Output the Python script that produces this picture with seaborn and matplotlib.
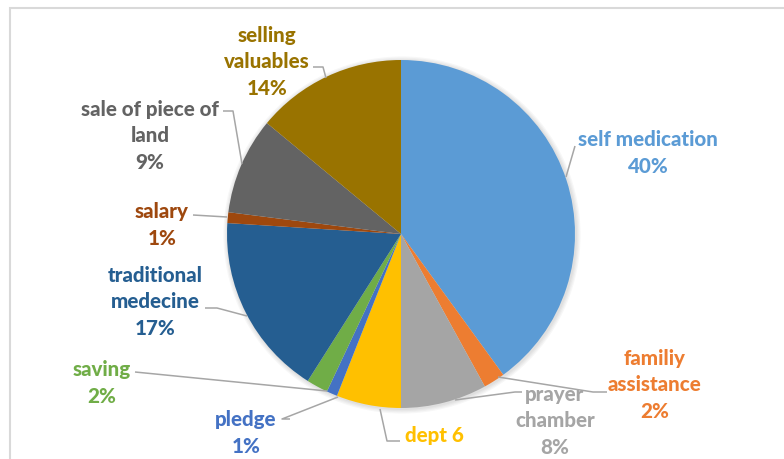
import matplotlib
matplotlib.use("Agg")
import matplotlib.pyplot as plt
import seaborn as sns
from matplotlib.patches import Rectangle

categories = ["self medication", "familiy assistance", "prayer chamber", "dept",
              "pledge", "saving", "traditional medecine", "salary",
              "sale of piece of land", "selling valuables"]
values = [40, 2, 8, 6, 1, 2, 17, 1, 9, 14]
label_texts = ["self medication\n40%", "familiy\nassistance\n2%", "prayer\nchamber\n8%",
               "dept 6", "pledge\n1%", "saving\n2%", "traditional\nmedecine\n17%",
               "salary\n1%", "sale of piece of\nland\n9%", "selling\nvaluables\n14%"]
colors = ["#5B9BD5", "#ED7D31", "#A5A5A5", "#FFC000", "#4472C4", "#70AD47",
          "#255E91", "#9E480E", "#636363", "#997300"]

sns.set_theme(style="white")
plt.rcParams['font.family'] = ['Lato', 'DejaVu Sans']

W, H = 784, 460
fig = plt.figure(figsize=(W / 100, H / 100), dpi=100)
ax = fig.add_axes([0, 0, 1, 1])

def Y(y):
    return H - y

cx, cy, r = 401, 235, 174
for i in range(4):
    ax.add_patch(plt.Circle((cx + 1, Y(cy) - 1), r + 1 + i * 1.2, color="black",
                            alpha=0.03, lw=0, zorder=1))
wedges, _ = ax.pie(values, colors=colors, startangle=90, counterclock=False,
                   center=(cx, Y(cy)), radius=r, frame=True,
                   wedgeprops=dict(linewidth=0, zorder=2))
ax.set_xlim(0, W)
ax.set_ylim(0, H)
ax.set_aspect("equal")
ax.axis("off")

# frame
ax.add_patch(Rectangle((9.5, Y(470)), 800, 470 - 8.5, fill=False,
                       edgecolor="#D9D9D9", linewidth=1.5, zorder=0))

# label positions (pixel centres) and leader lines
label_pos = [(648, 153), (655, 385), (555, 421), (434, 436), (246, 433),
             (102, 383), (155, 302), (162, 225), (150, 136), (267, 62)]
leaders = [
    [(575, 147), (566, 178)],
    [(607, 393), (593, 393), (498, 378)],
    [(522, 393), (515, 393), (455, 401)],
    [(400, 442), (387, 442), (380, 410)],
    [(290, 420), (282, 420), (338, 398)],
    [(135, 373), (327, 392)],
    [(205, 309), (217, 309), (247, 317)],
    [(193, 216), (227, 218)],
    [(223, 112), (233, 112), (242, 165)],
    [(313, 68), (323, 68), (326, 79)],
]
for pts in leaders:
    xs = [p[0] for p in pts]
    ys = [Y(p[1]) for p in pts]
    ax.plot(xs, ys, color="#A6A6A6", lw=1.1, zorder=3, solid_capstyle="butt")

for (x, y), t, c in zip(label_pos, label_texts, colors):
    ax.text(x, Y(y), t, ha="center", va="center", fontsize=14.8,
            fontweight="black", color=c, linespacing=1.45, zorder=4)

fig.savefig("out.png", dpi=100)
